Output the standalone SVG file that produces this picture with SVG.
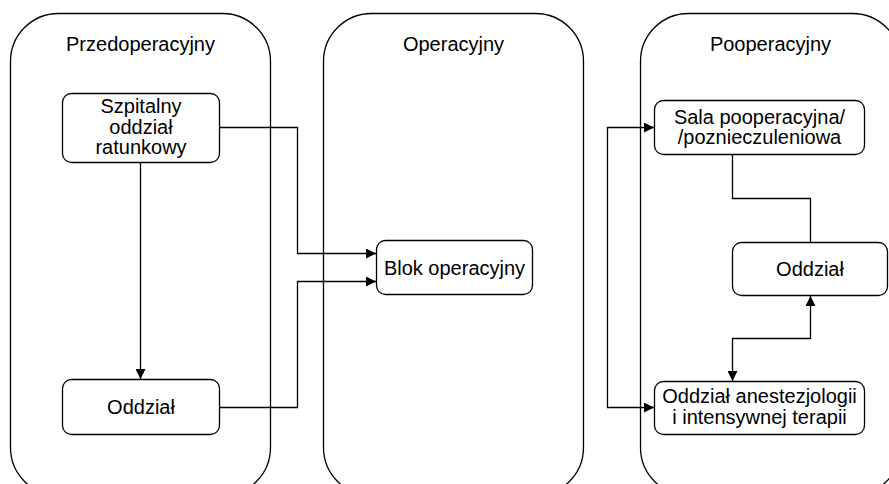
<svg xmlns="http://www.w3.org/2000/svg" width="889" height="484" viewBox="0 0 889 484">
<style>
.lane{fill:#fff;stroke:#000;stroke-width:1.3}
.node{fill:#fff;stroke:#000;stroke-width:1.3}
.t{font-family:"Liberation Sans",Arial,sans-serif;font-size:20px;fill:#000;text-anchor:middle}
.c{fill:none;stroke:#000;stroke-width:1.3}
</style>
<defs>
<marker id="arr" markerUnits="userSpaceOnUse" markerWidth="10" markerHeight="10" refX="10" refY="5" orient="auto-start-reverse">
<path d="M0,0 L10,5 L0,10 z" fill="#000"/>
</marker>
</defs>
<g id="lane-przed">
<rect class="lane" x="10.5" y="13.5" width="260" height="482" rx="48"/>
<text class="t" x="140.5" y="51">Przedoperacyjny</text>
</g>
<g id="lane-oper">
<rect class="lane" x="323.5" y="13.5" width="260" height="482" rx="48"/>
<text class="t" x="453.5" y="51">Operacyjny</text>
</g>
<g id="lane-poop">
<rect class="lane" x="640.5" y="13.5" width="260" height="482" rx="48"/>
<text class="t" x="770.5" y="51">Pooperacyjny</text>
</g>
<g id="connectors">
<path class="c" d="M219.5 127.5 H297.5 V253.5 H376" marker-end="url(#arr)"/>
<path class="c" d="M219.5 407.5 H297.5 V281.5 H376" marker-end="url(#arr)"/>
<path class="c" d="M140.5 162 V379" marker-end="url(#arr)"/>
<path class="c" d="M654 127.5 H607.5 V407.5 H654" marker-start="url(#arr)" marker-end="url(#arr)"/>
<path class="c" d="M732.5 154.5 V198.5 H810.5 V242.5"/>
<path class="c" d="M810.5 296 V338.5 H732.5 V381" marker-start="url(#arr)" marker-end="url(#arr)"/>
</g>
<g id="sor">
<rect class="node" x="62.5" y="93.5" width="157" height="69" rx="9"/>
<text class="t" x="141" y="113">Szpitalny</text>
<text class="t" x="141" y="133.5">oddział</text>
<text class="t" x="141" y="154">ratunkowy</text>
</g>
<g id="oddzial-l">
<rect class="node" x="62.5" y="379.5" width="157" height="55" rx="9"/>
<text class="t" x="141" y="414">Oddział</text>
</g>
<g id="blok">
<rect class="node" x="376.5" y="240.5" width="156" height="54" rx="9"/>
<text class="t" x="454.5" y="274.5">Blok operacyjny</text>
</g>
<g id="sala">
<rect class="node" x="654.5" y="100.5" width="210" height="54" rx="9"/>
<text class="t" x="759.5" y="123.5">Sala pooperacyjna/</text>
<text class="t" x="759.5" y="144">/poznieczuleniowa</text>
</g>
<g id="oddzial-r">
<rect class="node" x="732.5" y="242.5" width="155" height="53" rx="9"/>
<text class="t" x="810" y="275.5">Oddział</text>
</g>
<g id="anest">
<rect class="node" x="654.5" y="381.5" width="210" height="53" rx="9"/>
<text class="t" x="759.5" y="402.5">Oddział anestezjologii</text>
<text class="t" x="759.5" y="423.5">i intensywnej terapii</text>
</g>
</svg>
